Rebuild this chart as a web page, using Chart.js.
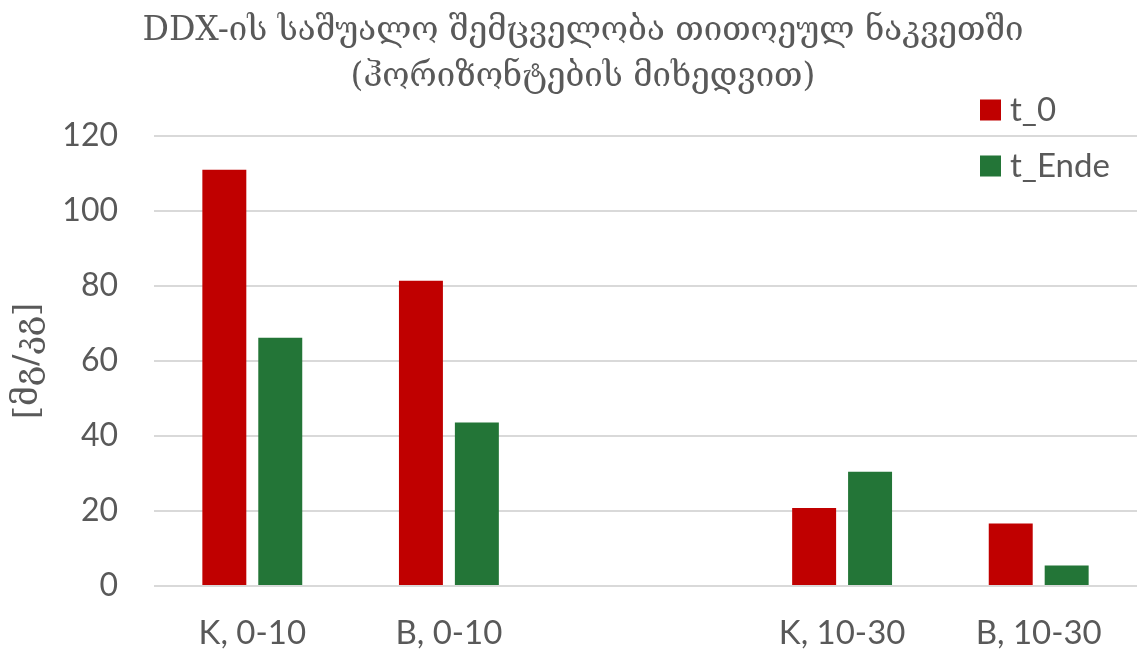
<!DOCTYPE html>
<html>
<head>
<meta charset="utf-8">
<script src="https://cdn.jsdelivr.net/npm/chart.js@4/dist/chart.umd.min.js"></script>
<style>
html,body{margin:0;padding:0;background:#fff;}
#wrap{width:1137px;height:664px;position:relative;}
</style>
</head>
<body>
<div id="wrap"><canvas id="c" width="1137" height="664"></canvas></div>
<script>
const categories = ["K, 0-10", "B, 0-10", "", "K, 10-30", "B, 10-30"];
const t0Values = [111.0, 81.4, null, 20.8, 16.7];
const tEndeValues = [66.2, 43.6, null, 30.5, 5.5];
const seriesNames = ["t_0", "t_Ende"];
const titleLines = ["DDX-ის საშუალო შემცველობა თითოეულ ნაკვეთში", "(ჰორიზონტების მიხედვით)"];
const yAxisTitle = "[მგ/კგ]";
const yTicks = [0, 20, 40, 60, 80, 100, 120];

const RED = "#C00000";
const GREEN = "#237537";
const TEXT = "#595959";
const TICKFONT = "Lato, 'Open Sans', sans-serif";
const GEOFONT = "'DejaVu Serif', 'DejaVu Sans', serif";

const titlePlugin = {
  id: 'customTitle',
  afterDraw(chart) {
    const ctx = chart.ctx;
    ctx.save();
    ctx.fillStyle = TEXT;
    ctx.font = "33px " + GEOFONT;
    ctx.textAlign = "center";
    ctx.textBaseline = "middle";
    ctx.fillText(titleLines[0], 583, 31);
    ctx.fillText(titleLines[1], 583, 77);
    ctx.restore();
  }
};

const legendPlugin = {
  id: 'customLegend',
  afterDraw(chart) {
    const ctx = chart.ctx;
    ctx.save();
    ctx.font = "33px " + TICKFONT;
    ctx.textBaseline = "middle";
    ctx.textAlign = "left";
    chart.data.datasets.forEach((ds, i) => {
      const y = 110 + i * 56;
      ctx.fillStyle = ds.backgroundColor;
      ctx.fillRect(980, y - 10.5, 21, 21);
      ctx.fillStyle = TEXT;
      ctx.fillText(ds.label, 1010, y);
    });
    ctx.restore();
  }
};

new Chart(document.getElementById('c'), {
  type: 'bar',
  data: {
    labels: categories,
    datasets: [
      { label: seriesNames[0], data: t0Values, backgroundColor: RED },
      { label: seriesNames[1], data: tEndeValues, backgroundColor: GREEN }
    ]
  },
  plugins: [titlePlugin, legendPlugin],
  options: {
    responsive: false,
    animation: false,
    devicePixelRatio: 1,
    layout: { padding: { top: 136, right: 0, left: 0, bottom: 0 } },
    plugins: {
      legend: { display: false },
      title: { display: false },
      tooltip: { enabled: false }
    },
    datasets: {
      bar: { categoryPercentage: 0.569, barPercentage: 0.786 }
    },
    scales: {
      x: {
        grid: { display: false, drawTicks: false },
        border: { display: false },
        ticks: { color: TEXT, font: { family: TICKFONT, size: 33 }, padding: 28, maxRotation: 0, autoSkip: false },
        afterFit(scale) { scale.height = 78; }
      },
      y: {
        min: 0, max: 120,
        afterBuildTicks(scale) { scale.ticks = yTicks.map(v => ({ value: v })); },
        grid: { color: "#d9d9d9", lineWidth: 2, drawTicks: false },
        border: { display: false },
        ticks: { color: TEXT, font: { family: TICKFONT, size: 32 }, padding: 36 },
        title: { display: true, text: yAxisTitle, color: TEXT, font: { family: GEOFONT, size: 34 }, padding: { top: 8, bottom: 0 } },
        afterFit(scale) { scale.width = 154; }
      }
    }
  }
});
</script>
</body>
</html>
